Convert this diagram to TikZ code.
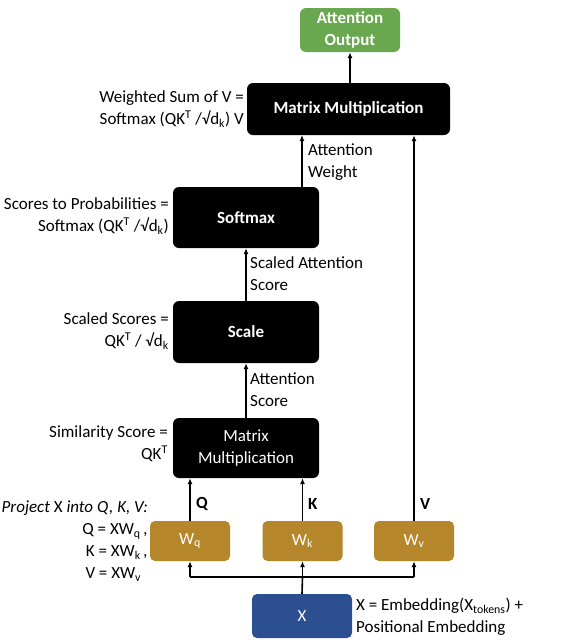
\documentclass[tikz,border=0pt]{standalone}
\usepackage{fontspec}
\setmainfont{Carlito}
\usetikzlibrary{arrows.meta}
\definecolor{boxgreen}{HTML}{6AA84F}
\definecolor{boxgold}{HTML}{B5862A}
\definecolor{boxblue}{HTML}{2C4F91}
\newcommand{\fsz}{\fontsize{17}{22}\selectfont}
\tikzset{
  blk/.style={fill=black, text=white, rounded corners=6pt, inner sep=0pt, font=\fsz\bfseries, align=center},
  greenbox/.style={fill=boxgreen, text=white, rounded corners=6pt, inner sep=0pt, font=\fsz\bfseries, align=center, minimum width=100pt, minimum height=44pt},
  goldbox/.style={fill=boxgold, text=white, rounded corners=5pt, inner sep=0pt, font=\fsz, minimum width=80pt, minimum height=40pt},
  bluebox/.style={fill=boxblue, text=white, rounded corners=5pt, inner sep=0pt, font=\fsz, minimum width=100pt, minimum height=44pt},
  lbl/.style={inner sep=0pt, align=right, anchor=east, font=\fsz},
  rlbl/.style={inner sep=0pt, align=left, anchor=west, font=\fsz},
  arr/.style={line width=1.6pt, -{Latex[length=6pt,width=5pt]}},
  ln/.style={line width=1.6pt}
}
\begin{document}
\begin{tikzpicture}[x=1pt,y=-1pt]
\useasboundingbox (0,0) rectangle (566,643);
% boxes
\node[greenbox] (out) at (350,30) {Attention\\Output};
\node[blk, minimum width=203pt, minimum height=52pt] (mm2) at (348.5,109) {Matrix Multiplication};
\node[blk, minimum width=146pt, minimum height=61pt] (soft) at (246,217.5) {Softmax};
\node[blk, minimum width=146pt, minimum height=62pt] (scale) at (246,332) {Scale};
\node[blk, minimum width=146pt, minimum height=60pt, font=\fsz\mdseries] (mm1) at (246,448) {Matrix\\Multiplication};
\node[goldbox] (wq) at (190,541) {W\textsubscript{q}};
\node[goldbox] (wk) at (302.5,541) {W\textsubscript{k}};
\node[goldbox] (wv) at (414,541) {W\textsubscript{v}};
\node[bluebox] (x) at (302,616) {X};
% branch point
\coordinate (br) at (302.5,577);
\coordinate (brq) at (190,577);
\coordinate (brv) at (414,577);
% connectors
\draw[ln] (x.north) -- (br);
\draw[ln] (brq) -- (brv);
\draw[arr] (brq) -- (wq.south);
\draw[arr] (br) -- (wk.south);
\draw[arr] (brv) -- (wv.south);
\draw[arr] (wq.north) -- (wq.north |- mm1.south);
\draw[arr] (wk.north) -- (wk.north |- mm1.south);
\draw[arr] (wv.north) -- (wv.north |- mm2.south);
\node[inner sep=0pt, font=\fsz\bfseries, anchor=west] (qlab) at (196,504) {Q};
\node[inner sep=0pt, font=\fsz\bfseries, anchor=west] (klab) at (308,504) {K};
\node[inner sep=0pt, font=\fsz\bfseries, anchor=west] (vlab) at (420,504) {V};
\draw[arr] (mm1.north) -- (scale.south);
\draw[arr] (scale.north) -- (soft.south);
\draw[arr] (soft.north -| 302,0) -- (302,135);
\draw[arr] (mm2.north -| out.south) -- (out.south);
% arrow labels
\node[rlbl] (l1) at (250,390) {Attention\\Score};
\node[rlbl] (l2) at (250,274) {Scaled Attention\\Score};
\node[rlbl] (l3) at (308,162) {Attention\\Weight};
% left labels
\node[lbl] (t1) at (244,109) {Weighted Sum of V =\\Softmax (QK\textsuperscript{T} /√d\textsubscript{k}) V};
\node[lbl] (t2) at (169,216) {Scores to Probabilities =\\Softmax (QK\textsuperscript{T} /√d\textsubscript{k})};
\node[lbl] (t3) at (169,331) {Scaled Scores =\\QK\textsuperscript{T} / √d\textsubscript{k}};
\node[lbl] (t4) at (168,444) {Similarity Score =\\QK\textsuperscript{T}};
\node[lbl] (t5) at (148,541) {\textit{Project \textup{X} into Q, K, V:}\\Q = XW\textsubscript{q}\,\textit{,}\\K = XW\textsubscript{k}\,\textit{,}\\V = XW\textsubscript{v}\ \,};
\node[rlbl] (t6) at (356,617) {X = Embedding(X\textsubscript{tokens}) +\\Positional Embedding};
\end{tikzpicture}
\end{document}
